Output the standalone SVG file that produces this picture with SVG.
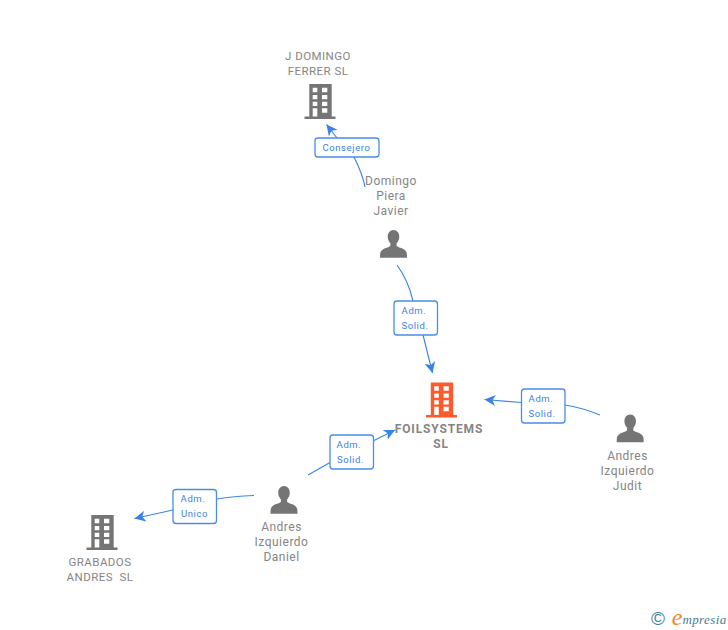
<svg xmlns="http://www.w3.org/2000/svg" width="728" height="630" viewBox="0 0 728 630">
<style>
text{font-family:Roboto,"Liberation Sans",Arial,sans-serif;text-anchor:middle}
.n{font-size:12px;fill:#858585;letter-spacing:.5px}
.c{font-size:11.5px;fill:#858585;letter-spacing:.45px}
.m{font-size:12px;fill:#858585;font-weight:bold;letter-spacing:.85px}
.l{font-size:9.5px;fill:#3b82e6;letter-spacing:.6px}
.b{fill:#fff;stroke:#4a8ce8;stroke-width:1.3}
.e{fill:none;stroke:#3f86e6;stroke-width:1.2}
</style>
<defs>
<marker id="a" markerUnits="userSpaceOnUse" markerWidth="14" markerHeight="14" refX="11" refY="6" orient="auto"><path d="M11 6L0 .5L3 6L0 11.500Z" fill="#3b82e6"/></marker>
<path id="bld" fill-rule="evenodd" d="M5.300 0H27.700V32.500H31.500V35H.5V32.500H5.300ZM8.700 3.700V8.300H13.300V3.700ZM18 3.700V8.300H23.300V3.700ZM8.700 11V15.300H13.300V11ZM18 11V15.300H23.300V11ZM8.700 17.700V22H13.300V17.700ZM18 17.700V22H23.300V17.700ZM8.700 24.300V32.500H13.300V24.300ZM18 24.300V28.700H23.300V24.300Z"/>
<path id="psn" d="M13.500 0C17 0 19.300 3 19.300 6.600C19.300 9.600 18 12 16.600 13.400V16C18.500 17.600 25.500 18.500 26.600 22.500C27 24 27 26 27 27.700H0C0 26 0 24 .4 22.500C1.500 18.500 8.500 17.600 10.400 16V13.400C9 12 7.700 9.600 7.700 6.600C7.700 3 10 0 13.500 0Z"/>
</defs>
<rect width="728" height="630" fill="#fff"/>
<g id="connectors">
<path class="e" d="M354 157C359 167 363 176 365 187"/>
<path class="e" d="M337 138L326.500 124.500" marker-end="url(#a)"/>
<path class="e" d="M397 265C405 276 410 288 413 301"/>
<path class="e" d="M423 335L432.500 373" marker-end="url(#a)"/>
<path class="e" d="M600 415C588 410 577 407 565 405"/>
<path class="e" d="M521 402.500L484.500 399.500" marker-end="url(#a)"/>
<path class="e" d="M308 475L330 462.500"/>
<path class="e" d="M373 441L395 430" marker-end="url(#a)"/>
<path class="e" d="M254 495.500C241 496 229 497 217 499"/>
<path class="e" d="M173 510L134.500 518.500" marker-end="url(#a)"/>
</g>
<g id="edge-label-1"><rect class="b" x="315" y="138" width="64" height="19" rx="3"/><text class="l" x="346.500" y="151">Consejero</text></g>
<g id="edge-label-2"><rect class="b" x="394" y="301" width="43.500" height="34" rx="3"/><text class="l" x="414" y="314">Adm.</text><text class="l" x="415" y="329">Solid.</text></g>
<g id="edge-label-3"><rect class="b" x="521.500" y="389" width="43.500" height="34" rx="3"/><text class="l" x="541" y="402">Adm.</text><text class="l" x="542" y="417">Solid.</text></g>
<g id="edge-label-4"><rect class="b" x="330" y="435" width="43.500" height="34" rx="3"/><text class="l" x="349" y="448">Adm.</text><text class="l" x="350.500" y="463">Solid.</text></g>
<g id="edge-label-5"><rect class="b" x="173" y="489.500" width="43.500" height="34" rx="3"/><text class="l" x="193" y="502">Adm.</text><text class="l" x="194.500" y="517">Unico</text></g>
<g id="node-jdomingo"><text class="c" x="318" y="60">J DOMINGO</text><text class="c" x="318" y="75">FERRER SL</text><use href="#bld" x="304" y="84" fill="#757575"/></g>
<g id="node-domingo"><text class="n" x="391" y="185">Domingo</text><text class="n" x="391" y="200">Piera</text><text class="n" x="391" y="215">Javier</text><use href="#psn" x="380" y="230" fill="#757575"/></g>
<g id="node-foil"><use href="#bld" x="425.500" y="382.500" fill="#ff5a2b"/><text class="m" x="439" y="433">FOILSYSTEMS</text><text class="m" x="441" y="448">SL</text></g>
<g id="node-judit"><use href="#psn" x="616.700" y="414.500" fill="#757575"/><text class="n" x="627.500" y="460">Andres</text><text class="n" x="627.500" y="475">Izquierdo</text><text class="n" x="627.500" y="490">Judit</text></g>
<g id="node-daniel"><use href="#psn" x="270.500" y="486" fill="#757575"/><text class="n" x="281.500" y="531">Andres</text><text class="n" x="281.500" y="546">Izquierdo</text><text class="n" x="281.500" y="561">Daniel</text></g>
<g id="node-grabados"><use href="#bld" x="86" y="515" fill="#757575"/><text class="c" x="100" y="566">GRABADOS</text><text class="c" x="100" y="581" xml:space="preserve">ANDRES  SL</text></g>
<g id="logo">
<text x="658" y="625" style="font-family:'Liberation Sans',sans-serif;font-size:19px;fill:#3f7f96">©</text>
<text x="677" y="625" style="font-family:'Liberation Serif',serif;font-style:italic;font-size:24px;fill:#f08a1d">e</text>
<text x="704.500" y="624" style="font-family:'Liberation Serif',serif;font-style:italic;font-size:13px;fill:#3f7f96;letter-spacing:.4px">mpresia</text>
</g>
</svg>
